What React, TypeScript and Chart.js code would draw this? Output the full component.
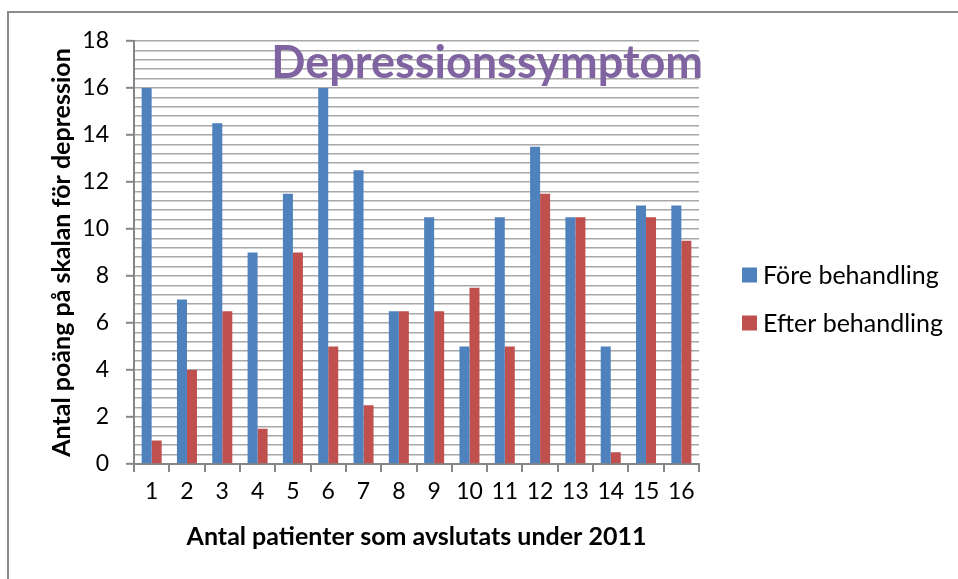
import React, { useEffect, useRef } from "react";
import { Chart, registerables } from "chart.js";

Chart.register(...registerables);

const categories = ["1", "2", "3", "4", "5", "6", "7", "8", "9", "10", "11", "12", "13", "14", "15", "16"];
const foreBehandling = [16, 7, 14.5, 9, 11.5, 16, 12.5, 6.5, 10.5, 5, 10.5, 13.5, 10.5, 5, 11, 11];
const efterBehandling = [1, 4, 6.5, 1.5, 9, 5, 2.5, 6.5, 6.5, 7.5, 5, 11.5, 10.5, 0.5, 10.5, 9.5];
const seriesNames = ["Före behandling", "Efter behandling"];
const seriesColors = ["#4F81BD", "#C0504D"];
const chartTitle = "Depressionssymptom";
const yTitle = "Antal poäng på skalan för depression";
const xTitle = "Antal patienter som avslutats under 2011";
const yMax = 18;
const yMinorStep = 0.4;
const minorPerMajor = 5;

const FONT = "Lato, 'Open Sans', sans-serif";

const overlayPlugin = {
  id: "overlay",
  afterDraw(chart: any) {
    const ctx = chart.ctx;
    const area = chart.chartArea;
    ctx.save();
    ctx.font = `bold 45px ${FONT}`;
    ctx.fillStyle = "#8064A2";
    ctx.textAlign = "right";
    ctx.textBaseline = "middle";
    ctx.fillText(chartTitle, area.right + 4, 63);
    ctx.font = `25px ${FONT}`;
    ctx.textAlign = "left";
    const ys = [275, 323];
    chart.data.datasets.forEach((ds: any, i: number) => {
      ctx.fillStyle = ds.backgroundColor;
      ctx.fillRect(742, ys[i] - 7.5, 15, 15);
      ctx.fillStyle = "#000";
      ctx.fillText(ds.label, 763, ys[i] + 1);
    });
    ctx.restore();
  },
};

export default function App() {
  const ref = useRef<HTMLCanvasElement>(null);
  useEffect(() => {
    if (!ref.current) return;
    const chart = new Chart(ref.current, {
      type: "bar",
      data: {
        labels: categories,
        datasets: [
          { label: seriesNames[0], data: foreBehandling, backgroundColor: seriesColors[0] },
          { label: seriesNames[1], data: efterBehandling, backgroundColor: seriesColors[1] },
        ],
      },
      options: {
        responsive: false,
        animation: false,
        datasets: { bar: { categoryPercentage: 0.567, barPercentage: 1 } },
        layout: { padding: { left: 43, right: 259, top: 41, bottom: 23 } },
        plugins: { legend: { display: false }, title: { display: false }, tooltip: { enabled: false } },
        scales: {
          x: {
            afterFit: (s: any) => { s.height = 92; },
            grid: { offset: true, drawOnChartArea: false, drawTicks: true, tickLength: 8, color: "#868686", lineWidth: 2 },
            border: { color: "#868686", width: 2 },
            ticks: { color: "#000", font: { family: FONT, size: 23 }, padding: 6, maxRotation: 0, autoSkip: false },
            title: { display: true, text: xTitle, color: "#000", font: { family: FONT, size: 25, weight: "bold" }, padding: { top: 0, bottom: 4 } },
          },
          y: {
            min: 0,
            max: yMax,
            afterFit: (s: any) => { s.width = 91; },
            afterBuildTicks: (s: any) => {
              const n = Math.round(yMax / yMinorStep);
              s.ticks = Array.from({ length: n + 1 }, (_, i) => ({ value: Math.round(i * yMinorStep * 100) / 100 }));
            },
            grid: {
              color: "#a8a8a8",
              lineWidth: 1.6,
              tickLength: 8,
              tickColor: (c: any) => (c.index % minorPerMajor === 0 ? "#868686" : "rgba(0,0,0,0)"),
              tickWidth: 2,
            },
            border: { color: "#868686", width: 2 },
            ticks: {
              autoSkip: false,
              color: "#000",
              font: { family: FONT, size: 23 },
              padding: 17,
              callback: (v: any, i: number) => (i % minorPerMajor === 0 ? String(v) : ""),
            },
            title: { display: true, text: yTitle, color: "#000", font: { family: FONT, size: 25, weight: "bold" }, padding: { top: 4, bottom: 0 } },
          },
        },
      },
      plugins: [overlayPlugin],
    });
    return () => chart.destroy();
  }, []);
  return (
    <div style={{ position: "fixed", left: 0, top: 0, width: 958, height: 579, overflow: "hidden", background: "#fff" }}>
      <div style={{ position: "absolute", left: 7, top: 11, width: 951, height: 568, boxSizing: "border-box", borderTop: "2px solid #8c8c8c", borderLeft: "2px solid #8c8c8c" }} />
      <canvas ref={ref} width={958} height={579} style={{ position: "absolute", left: 0, top: 0, width: 958, height: 579 }} />
    </div>
  );
}
